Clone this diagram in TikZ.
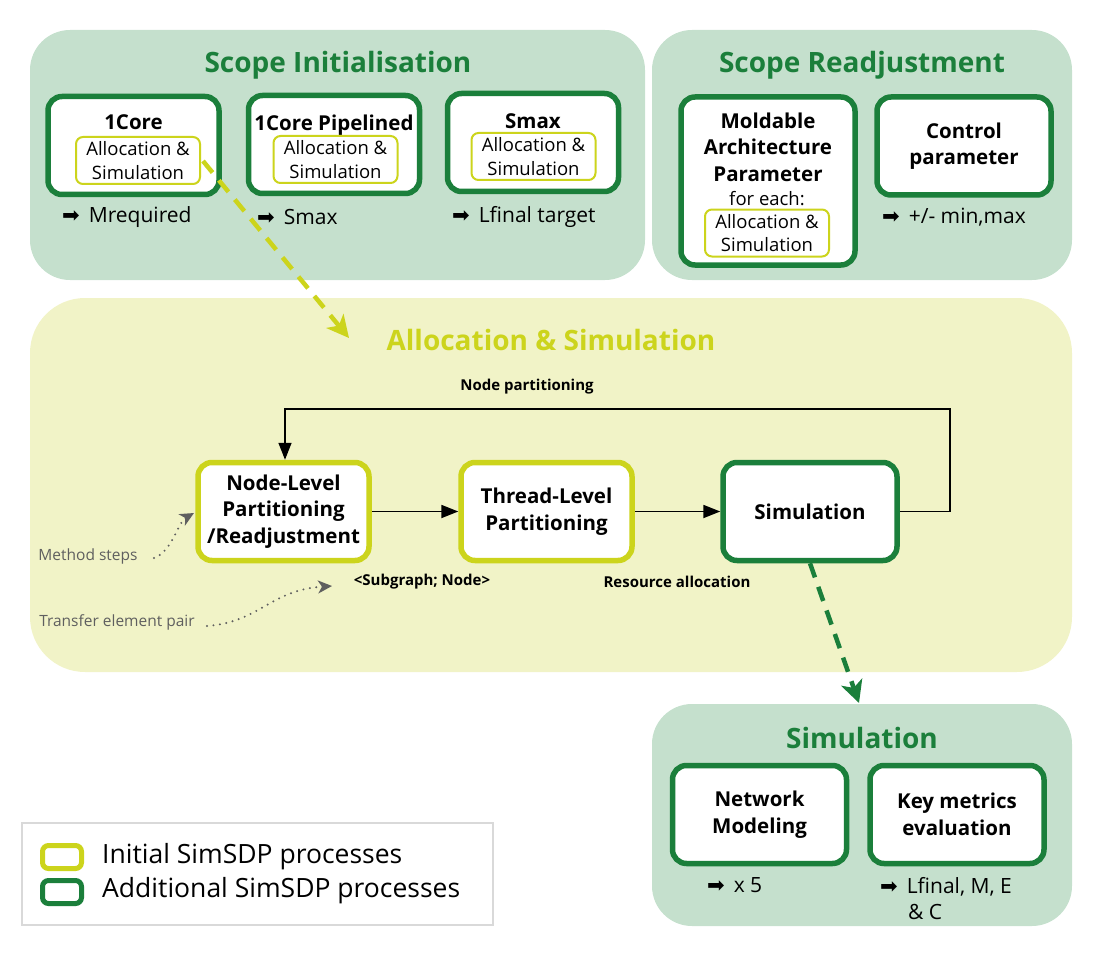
\documentclass[tikz,border=0pt]{standalone}
\usepackage{fontspec}
\setmainfont{Open Sans}
\newfontfamily\sym{DejaVu Sans}
\usetikzlibrary{arrows.meta}
\definecolor{dg}{HTML}{1B7F3B}
\definecolor{yg}{HTML}{CCD41C}
\definecolor{lg}{HTML}{C5E0CD}
\definecolor{ly}{HTML}{F1F3C7}
\definecolor{gr}{HTML}{5F5F5F}
\definecolor{lgray}{HTML}{D9D9D9}
\newcommand{\fs}[1]{\fontsize{#1}{#1}\selectfont}
\newcommand{\rarr}{{\sym\fs{21}➡}\hspace{9pt}}
\begin{document}
\begin{tikzpicture}[x=1pt,y=-1pt,
 panelg/.style={fill=lg,draw=none,rounded corners=40pt},
 panely/.style={fill=ly,draw=none,rounded corners=55pt},
 ptitle/.style={font=\bfseries\fs{28}},
 gbox/.style={draw=dg,line width=5.5pt,fill=white,rounded corners=14pt,minimum width=171pt,minimum height=98pt,inner sep=0pt},
 ybox/.style={draw=yg,line width=5.5pt,fill=white,rounded corners=14pt,minimum width=171pt,minimum height=98pt,inner sep=0pt},
 abox/.style={draw=yg,line width=2pt,fill=white,rounded corners=7pt,minimum width=124pt,minimum height=47pt,inner sep=0pt,align=center,font=\fontsize{18.5}{23.5}\selectfont},
 btext/.style={font=\bfseries\fontsize{20.5}{26.5}\selectfont,align=center,inner sep=0pt},
 outtext/.style={font=\fs{21},anchor=west,inner sep=0pt},
 small/.style={font=\bfseries\fs{15},inner sep=0pt},
 note/.style={font=\fs{15.5},text=gr,inner sep=0pt},
 flow/.style={line width=1.8pt,-{Triangle[length=17pt,width=13pt]}},
 dotarr/.style={gr,line width=2.2pt,line cap=round,dash pattern=on 0pt off 6.5pt,-{Stealth[length=14pt,width=13pt,inset=4pt]}}
]
\useasboundingbox (0,0) rectangle (1109,955);
% panels
\fill[panelg] (30,30) rectangle (645,280);
\fill[panelg] (652,30) rectangle (1072,280);
\fill[panely] (30,298) rectangle (1072,672);
\fill[panelg] (652,704) rectangle (1072,926);

\node[ptitle,text=dg] (t1) at (338,65) {Scope Initialisation};
\node[ptitle,text=dg] (t2) at (862,65) {Scope Readjustment};
\node[ptitle,text=yg] (t3) at (551,340) {Allocation \& Simulation};
\node[ptitle,text=dg] (t4) at (862,738) {Simulation};

% Scope initialisation boxes
\node[gbox] (c1) at (133.5,145.5) {};
\node[btext] (c1t) at (133.5,122) {1Core};
\node[abox] (c1a) at (138,160.5) {Allocation \&\\Simulation};
\node[gbox] (c2) at (334,144.5) {};
\node[btext] (c2t) at (334,125) {1Core Pipelined};
\node[abox] (c2a) at (335.5,159.5) {Allocation \&\\Simulation};
\node[gbox] (c3) at (533,142.5) {};
\node[btext] (c3t) at (533,121) {Smax};
\node[abox] (c3a) at (533.5,156.5) {Allocation \&\\Simulation};
\node[outtext] (o1) at (62,217) {\rarr Mrequired};
\node[outtext] (o2) at (257,217) {\rarr Smax};
\node[outtext] (o3) at (452,217) {\rarr Lfinal target};

% Scope readjustment
\node[gbox,minimum width=174pt,minimum height=168pt] (m1) at (768,181) {};
\node[btext] (m1t) at (768,147) {Moldable\\Architecture\\Parameter};
\node[font=\fs{18.5},inner sep=0pt] (m1f) at (767,199) {for each:};
\node[abox] (m1a) at (767,233) {Allocation \&\\Simulation};
\node[gbox,minimum width=174pt] (cp) at (964,146) {};
\node[btext] at (cp.center) {Control\\parameter};
\node[outtext] (o4) at (882,217) {\rarr +/- min,max};

% Allocation & simulation
\node[ybox] (nl) at (283.5,511.5) {};
\node[btext] at (nl.center) {Node-Level\\Partitioning\\/Readjustment};
\node[ybox] (tl) at (546.5,511.5) {};
\node[btext] at (tl.center) {Thread-Level\\Partitioning};
\node[gbox,minimum width=174pt] (sim) at (810,511.5) {};
\node[btext] at (sim.center) {Simulation};

\draw[flow] (nl.east) -- (tl.west);
\draw[flow] (tl.east) -- (sim.west);
\coordinate (lp1) at (950,511.5);
\coordinate (lp2) at (950,409);
\coordinate (lp3) at (285,409);
\draw[flow,line width=1.5pt] (sim.east) -- (lp1) -- (lp2) -- (lp3) -- (lp3 |- nl.north);
\node[small] (np) at (527,387) {Node partitioning};
\node[small] (sg) at (422,582) {<Subgraph; Node>};
\node[small] (ra) at (677,582) {Resource allocation};

\node[note] (ms) at (88,556) {Method steps};
\node[note] (te) at (117,622) {Transfer element pair};
\coordinate (ms1) at (154,558);
\coordinate (ms2) at (194,513);
\draw[dotarr] (ms1) .. controls (172,552) and (178,522) .. (ms2);
\coordinate (te1) at (207,626);
\coordinate (te2) at (332,586);
\draw[dotarr] (te1) .. controls (260,622) and (270,590) .. (te2);

% dashed connectors
\coordinate (d1) at (203,161);
\coordinate (d2) at (349,338);
\draw[yg,line width=4.5pt,dash pattern=on 15pt off 10pt,-{Stealth[length=22pt,width=22pt,inset=6pt]}] (d1) -- (d2);
\coordinate (d3) at (859,703);
\draw[dg,line width=4.5pt,dash pattern=on 15pt off 10pt,-{Stealth[length=22pt,width=22pt,inset=6pt]}] (sim.south) -- (d3);

% Simulation panel
\node[gbox,minimum width=174pt] (nm) at (759.5,814.5) {};
\node[btext] at (nm.center) {Network\\Modeling};
\node[gbox,minimum width=174pt] (km) at (957,814.5) {};
\node[btext] at (km.center) {Key metrics\\evaluation};
\node[outtext] (o5) at (707,885) {\rarr x 5};
\node[outtext] (o6) at (880,887) {\rarr Lfinal, M, E};
\node[outtext] (o7) at (908,912) {\& C};

% legend
\draw[lgray,line width=2pt] (22,823) rectangle (493,925);
\draw[yg,line width=5pt,rounded corners=6pt] (42.5,845.5) rectangle (81.5,868.5);
\draw[dg,line width=5pt,rounded corners=6pt] (42.5,880.5) rectangle (81.5,903.5);
\node[font=\fs{26.5},anchor=west,inner sep=0pt] (l1) at (102,857) {Initial SimSDP processes};
\node[font=\fs{26.5},anchor=west,inner sep=0pt] (l2) at (102,891) {Additional SimSDP processes};
\end{tikzpicture}
\end{document}
